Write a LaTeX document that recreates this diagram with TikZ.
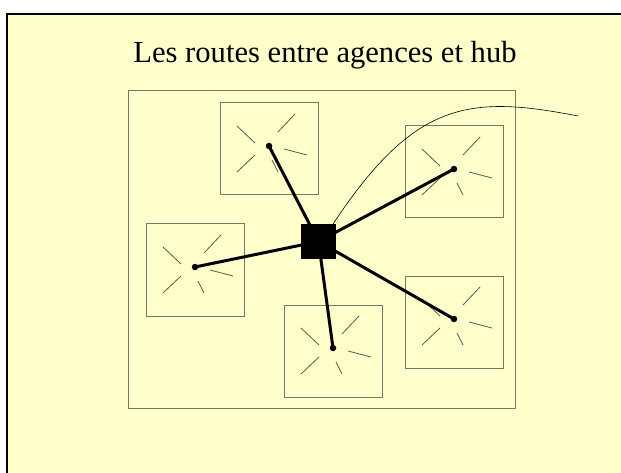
\documentclass[tikz,border=0pt]{standalone}
\usepackage{fontspec}
\setmainfont{Liberation Serif}
\definecolor{paper}{HTML}{FFFFCC}
\definecolor{boxgray}{RGB}{120,120,100}
\definecolor{raygray}{RGB}{90,90,70}
\begin{document}
\begin{tikzpicture}[x=1pt,y=-1pt,
  agency/.style={draw=boxgray, line width=1pt, minimum width=98pt, minimum height=92pt, inner sep=0pt},
  dot/.style={circle, fill=black, inner sep=0pt, minimum size=6.5pt},
  route/.style={line width=3pt},
  ray/.style={draw=raygray, line width=0.8pt},
  frame/.style={draw=boxgray, line width=1pt},
  title/.style={font=\fontsize{30.6}{36}\selectfont}]
\useasboundingbox (0,0) rectangle (621,473);
\fill[paper] (7,14) rectangle (621,473);
\draw[line width=1.2pt] (7,473) -- (7,14) -- (621,14);
\node[title] (t) at (325,55) {Les routes entre agences et hub};
\draw[frame] (128,91) rectangle (515,408);
\foreach \n/\x/\y in {a1/269/146, a2/454/169, a3/195/267, a4/333/348, a5/454/319} {
  \node[agency] (\n box) at (\x,\y+3) {};
  \node[dot] (\n) at (\x,\y) {};
  \draw[ray] ([shift={(-32,-20)}]\n.center) -- ([shift={(-14,-3)}]\n.center);
  \draw[ray] ([shift={(9,-14)}]\n.center) -- ([shift={(26,-32)}]\n.center);
  \draw[ray] ([shift={(15,3)}]\n.center) -- ([shift={(38,9)}]\n.center);
  \draw[ray] ([shift={(3,14)}]\n.center) -- ([shift={(9,26)}]\n.center);
  \draw[ray] ([shift={(-32,26)}]\n.center) -- ([shift={(-14,9)}]\n.center);
}
\node[fill=black, minimum size=35pt, inner sep=0pt] (hub) at (318.5,241.5) {};
\foreach \n in {a1,a2,a3,a4,a5} \draw[route] (hub.center) -- (\n.center);
\node[fill=black, minimum size=35pt, inner sep=0pt] at (hub.center) {};
\coordinate (tail) at (578,116);
\draw[line width=0.6pt] ([shift={(-3,0)}]hub.north east) .. controls (415,100) and (470,95) .. (tail);
\end{tikzpicture}
\end{document}
